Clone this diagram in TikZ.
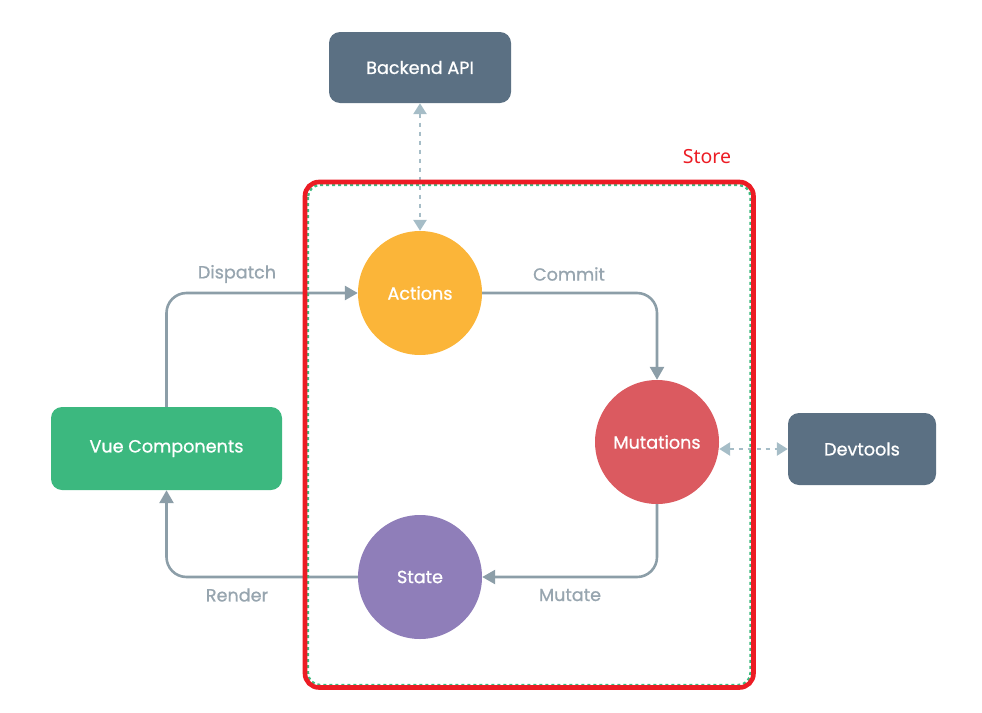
\documentclass[tikz,border=0pt]{standalone}
\usepackage{fontspec}
\setmainfont{Poppins}[FakeBold=0.9]
\newfontfamily\storefont{Noto Sans}
\usetikzlibrary{arrows.meta}
\definecolor{slate}{HTML}{5B7083}
\definecolor{vuegreen}{HTML}{3CB87F}
\definecolor{actionyellow}{HTML}{FBB539}
\definecolor{mutred}{HTML}{DB5A60}
\definecolor{statepurple}{HTML}{8F7EB9}
\definecolor{flowgrey}{HTML}{8C9EA8}
\definecolor{labelgrey}{HTML}{97A5AF}
\definecolor{linkblue}{HTML}{A6BDC7}
\definecolor{storered}{HTML}{EC1C24}
\definecolor{storegreen}{HTML}{3EBA80}
\begin{document}
\begin{tikzpicture}[x=1pt,y=-1pt,
  txt/.style={font=\fontsize{17.6}{20}\selectfont},
  box/.style={txt, rounded corners=11pt, text=white, inner sep=0pt},
  ball/.style={txt, circle, text=white, inner sep=0pt, minimum size=124pt},
  flow/.style={draw=flowgrey, line width=2.6pt, rounded corners=20pt,
    -{Triangle[length=13pt,width=14pt]}},
  link/.style={draw=linkblue, line width=2.6pt, dash pattern=on 4pt off 5pt,
    {Triangle[length=11pt,width=13pt]}-{Triangle[length=11pt,width=13pt]}},
  lbl/.style={txt, text=labelgrey},
]
\useasboundingbox (0,0) rectangle (982,712);

% outer boxes
\node[box, fill=slate, minimum width=182pt, minimum height=71pt] (backend) at (420,67.5) {Backend API};
\node[box, fill=vuegreen, minimum width=231pt, minimum height=83pt] (vue) at (166.5,448.5) {Vue Components};
\node[box, fill=slate, minimum width=148pt, minimum height=72pt] (devtools) at (862,449) {Devtools};

% store members
\node[ball, fill=actionyellow] (actions) at (420,293) {Actions};
\node[ball, fill=mutred] (mutations) at (657,442) {Mutations};
\node[ball, fill=statepurple] (state) at (420,577) {State};

% data flow cycle
\draw[flow] (vue.north) |- (actions.west);
\draw[flow] (actions.east) -| (mutations.north);
\draw[flow] (mutations.south) |- (state.east);
\draw[flow] (state.west) -| (vue.south);

\node[lbl] (dispatch) at (237,274) {Dispatch};
\node[lbl] (commit) at (569,274) {Commit};
\node[lbl] (mutate) at (570,595) {Mutate};
\node[lbl] (render) at (237,595) {Render};

% external links
\draw[link] (backend.south) -- (actions.north);
\coordinate (mutout) at (mutations.east |- devtools.west);
\draw[link] (mutout) -- (devtools.west);

% store frame
\draw[storegreen, line width=2.4pt, dash pattern=on 3pt off 3pt, rounded corners=12pt]
  (308,185) rectangle (750.5,685);
\draw[storered, line width=4.6pt, rounded corners=14pt]
  (305,182) rectangle (753.5,687.5);
\node[font=\storefont\fontsize{19.5}{22}\selectfont, text=storered] (store) at (707,157) {Store};
\end{tikzpicture}
\end{document}
